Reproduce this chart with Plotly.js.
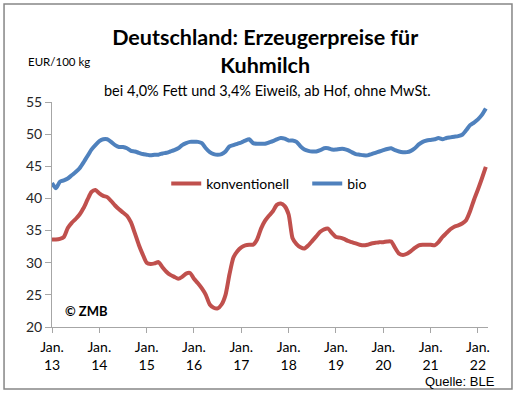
<!DOCTYPE html>
<html>
<head>
<meta charset="utf-8">
<script src="https://cdn.plot.ly/plotly-3.0.1.min.js"></script>
<style>
html,body{margin:0;padding:0;background:#fff;}
#chart{width:520px;height:396px;}
</style>
</head>
<body>
<div id="chart"></div>
<script>
// Monthly index 0 = Jan 2013 ... 110 = Mar 2022
var monthIndex = [];
for (var m = 0; m <= 110; m++) monthIndex.push(m);

var konventionell = [
  33.6, 33.6, 33.7, 34.0, 35.4, 36.2, 36.8, 37.5, 38.5, 39.8, 41.0, 41.3,
  40.8, 40.4, 40.2, 39.6, 38.9, 38.3, 37.8, 37.3, 36.3, 34.6, 32.8, 31.3,
  30.0, 29.8, 29.9, 30.1, 29.3, 28.6, 28.1, 27.8, 27.5, 27.8, 28.3, 28.4,
  27.5, 26.8, 26.0, 25.0, 23.5, 23.0, 22.9, 23.5, 25.0, 28.2, 30.8, 31.8,
  32.4, 32.7, 32.8, 32.8, 33.6, 35.3, 36.5, 37.3, 38.0, 39.0, 39.2, 38.8,
  37.5, 33.8, 32.9, 32.4, 32.2, 32.7, 33.4, 34.1, 34.8, 35.2, 35.3, 34.6,
  34.0, 33.9, 33.7, 33.4, 33.2, 33.0, 32.8, 32.7, 32.8, 33.0, 33.1, 33.2,
  33.2, 33.3, 33.3, 32.3, 31.4, 31.2, 31.4, 31.8, 32.3, 32.7, 32.8, 32.8,
  32.8, 32.7, 33.2, 34.0, 34.6, 35.2, 35.6, 35.8, 36.1, 36.6, 38.0, 39.8,
  41.4, 43.1, 44.9
];

var bio = [
  42.4, 41.6, 42.6, 42.8, 43.1, 43.6, 44.1, 44.7, 45.6, 46.6, 47.6, 48.3,
  48.9, 49.2, 49.2, 48.8, 48.3, 48.0, 48.0, 47.8, 47.4, 47.3, 47.1, 46.9,
  46.8, 46.7, 46.8, 46.8, 47.0, 47.1, 47.3, 47.5, 47.8, 48.3, 48.6, 48.8,
  48.8, 48.8, 48.6, 47.8, 47.2, 46.9, 46.8, 46.9, 47.3, 48.1, 48.3, 48.5,
  48.7, 49.0, 49.2, 48.6, 48.5, 48.5, 48.5, 48.7, 48.9, 49.2, 49.4, 49.3,
  49.0, 49.0, 48.8, 48.1, 47.6, 47.4, 47.3, 47.3, 47.5, 47.8, 47.8, 47.6,
  47.6, 47.7, 47.7, 47.5, 47.2, 46.9, 46.8, 46.7, 46.7, 46.9, 47.1, 47.3,
  47.5, 47.7, 47.8, 47.5, 47.3, 47.2, 47.2, 47.4, 47.8, 48.4, 48.8, 49.0,
  49.1, 49.2, 49.4, 49.2, 49.4, 49.5, 49.6, 49.7, 49.9, 50.6, 51.4, 51.8,
  52.3, 53.0, 54.0
];

var tickPositions = [0, 12, 24, 36, 48, 60, 72, 84, 96, 108];
var tickLabels = ["Jan.<br>13", "Jan.<br>14", "Jan.<br>15", "Jan.<br>16", "Jan.<br>17",
                  "Jan.<br>18", "Jan.<br>19", "Jan.<br>20", "Jan.<br>21", "Jan.<br>22"];
var yTicks = [20, 25, 30, 35, 40, 45, 50, 55];

var FONT = "Lato, 'Open Sans', sans-serif";

var traces = [
  {x: monthIndex, y: konventionell, type: 'scatter', mode: 'lines', name: 'konventionell',
   line: {color: '#C0504D', width: 4, shape: 'spline', smoothing: 0.6}},
  {x: monthIndex, y: bio, type: 'scatter', mode: 'lines', name: 'bio',
   line: {color: '#4F81BD', width: 4, shape: 'spline', smoothing: 0.6}}
];

var layout = {
  width: 520, height: 396,
  margin: {l: 52, r: 32, t: 102, b: 69, pad: 0},
  paper_bgcolor: '#ffffff', plot_bgcolor: '#ffffff',
  font: {family: FONT, color: '#262626'},
  title: {
    text: 'Deutschland: Erzeugerpreise für<br>Kuhmilch',
    font: {family: FONT, size: 21.5, color: '#000000', weight: 'bold'},
    x: 0.51, xanchor: 'center', xref: 'container',
    y: 0.886, yanchor: 'top', yref: 'container'
  },
  showlegend: true,
  legend: {
    orientation: 'h', x: 0.262, xanchor: 'left', y: 0.636, yanchor: 'middle',
    font: {family: FONT, size: 14, color: '#000000'},
    bgcolor: 'rgba(0,0,0,0)', borderwidth: 0, entrywidth: 96, itemwidth: 30
  },
  xaxis: {
    range: [0, 110.55], showgrid: false, zeroline: false,
    showline: true, linecolor: '#A6A6A6', linewidth: 1,
    tickmode: 'array', tickvals: tickPositions, ticktext: tickLabels,
    ticks: 'outside', ticklen: 5, tickcolor: '#A6A6A6', ticklabelstandoff: 2,
    tickfont: {family: FONT, size: 14, color: '#000000'}
  },
  yaxis: {
    range: [20, 55], showgrid: false, zeroline: false,
    showline: true, linecolor: '#A6A6A6', linewidth: 1,
    tickmode: 'array', tickvals: yTicks,
    ticks: 'outside', ticklen: 6, tickcolor: '#A6A6A6',
    tickfont: {family: FONT, size: 14, color: '#262626'}
  },
  shapes: [
    {type: 'rect', xref: 'paper', yref: 'paper', x0: -0.110, x1: 1.055, y0: -0.2756, y1: 1.4356,
     line: {color: '#868686', width: 1.5}, fillcolor: 'rgba(0,0,0,0)', layer: 'below'}
  ],
  annotations: [
    {text: 'bei 4,0% Fett und 3,4% Eiweiß, ab Hof, ohne MwSt.', xref: 'paper', yref: 'paper',
     x: (267 - 52) / 436, y: (327 - 90) / 225, xanchor: 'center', yanchor: 'middle', showarrow: false,
     font: {family: FONT, size: 14.5, color: '#000000'}},
    {text: 'EUR/100 kg', xref: 'paper', yref: 'paper',
     x: (59 - 52) / 436, y: (327 - 62) / 225, xanchor: 'center', yanchor: 'middle', showarrow: false,
     font: {family: FONT, size: 11.5, color: '#000000'}},
    {text: '© ZMB', xref: 'paper', yref: 'paper',
     x: (63 - 52) / 436, y: (327 - 311) / 225, xanchor: 'left', yanchor: 'middle', showarrow: false,
     font: {family: FONT, size: 13, color: '#000000', weight: 'bold'}},
    {text: 'Quelle: BLE', xref: 'paper', yref: 'paper',
     x: (497 - 52) / 436, y: (327 - 381) / 225, xanchor: 'right', yanchor: 'middle', showarrow: false,
     font: {family: "'Liberation Sans', Arial, sans-serif", size: 13, color: '#000000'}}
  ]
};

Plotly.newPlot('chart', traces, layout, {displayModeBar: false, staticPlot: true});
</script>
</body>
</html>
